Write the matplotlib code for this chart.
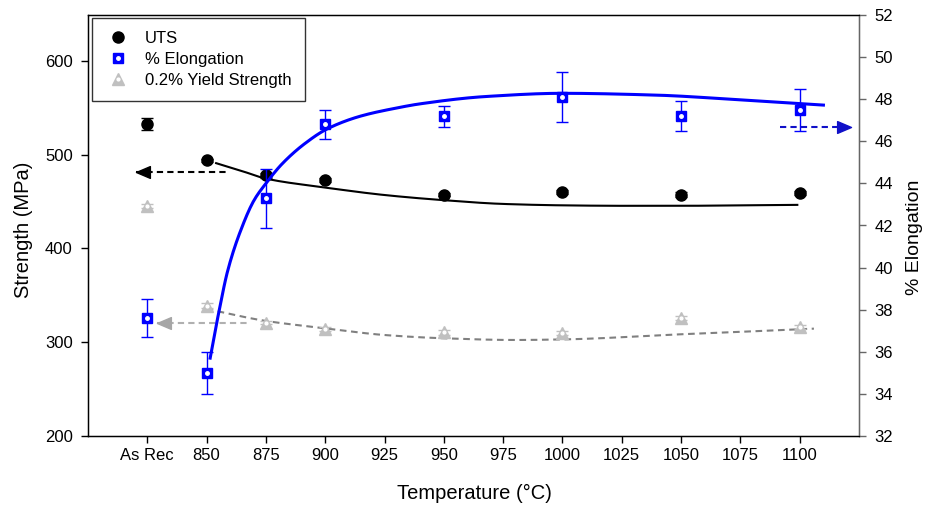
import numpy as np
import matplotlib
matplotlib.use("Agg")
import matplotlib.pyplot as plt
from matplotlib.lines import Line2D
from matplotlib.path import Path
from matplotlib.legend_handler import HandlerTuple

plt.rcParams['font.family'] = ['Liberation Sans', 'DejaVu Sans']

# ---- data -------------------------------------------------------------
tick_temps = [825, 850, 875, 900, 925, 950, 975, 1000, 1025, 1050, 1075, 1100]
tick_labels = ["As Rec", "850", "875", "900", "925", "950", "975", "1000",
               "1025", "1050", "1075", "1100"]

# "As Rec" is plotted in the 825 slot
sample_temps = [825, 850, 875, 900, 950, 1000, 1050, 1100]

uts = [533, 494, 478, 473, 457.5, 460, 457.5, 459]
uts_err = [6.5, 1.5, 3, 2.5, 2, 2, 2.5, 2]

yield_strength = [445, 339, 321, 314.5, 310.5, 310, 326, 316.5]
yield_err = [2, 2.5, 2, 2, 3, 2.5, 2, 2]

elongation = [37.6, 35.0, 43.3, 46.8, 47.2, 48.1, 47.2, 47.5]
elongation_err = [0.9, 1.0, 1.4, 0.7, 0.5, 1.2, 0.7, 1.0]

# regression curves
uts_fit_temps = [854, 865, 875, 900, 925, 950, 975, 1000, 1025, 1050, 1075, 1099]
uts_fit = [491, 482.5, 474.5, 465, 457, 451.5, 447.5, 446, 445.5, 445.5, 446, 446.5]

elong_fit_temps = [851.5, 855, 859, 865, 870, 875, 882, 891.5, 901, 915, 930,
                   940, 968, 1000, 1038, 1080, 1110]
elong_fit = [35.7, 37.8, 39.9, 41.95, 43.2, 44.0, 44.95, 45.9, 46.6, 47.2, 47.58,
             47.78, 48.13, 48.28, 48.2, 47.93, 47.72]

yield_fit_temps = [850, 875, 900, 925, 950, 980, 1000, 1050, 1100, 1106]
yield_fit = [335.5, 322.7, 314.9, 307.7, 304.2, 302.4, 303, 308.5, 313.8, 314.5]


def smooth(xs, ys, n=400):
    """Monotone piecewise-cubic (PCHIP) through the given points."""
    x = np.asarray(xs, float)
    y = np.asarray(ys, float)
    h = np.diff(x)
    d = np.diff(y) / h
    m = np.zeros_like(y)
    m[0], m[-1] = d[0], d[-1]
    for k in range(1, len(x) - 1):
        if d[k - 1] * d[k] > 0:
            w1 = 2 * h[k] + h[k - 1]
            w2 = h[k] + 2 * h[k - 1]
            m[k] = (w1 + w2) / (w1 / d[k - 1] + w2 / d[k])
    xn = np.linspace(x[0], x[-1], n)
    idx = np.clip(np.searchsorted(x, xn) - 1, 0, len(x) - 2)
    t = (xn - x[idx]) / h[idx]
    h00 = 2 * t**3 - 3 * t**2 + 1
    h10 = t**3 - 2 * t**2 + t
    h01 = -2 * t**3 + 3 * t**2
    h11 = t**3 - t**2
    yn = (h00 * y[idx] + h10 * h[idx] * m[idx] + h01 * y[idx + 1]
          + h11 * h[idx] * m[idx + 1])
    return xn, yn


# arrow heads whose tip sits on the anchor point
head_left = Path([(0, 0), (2, -0.85), (2, 0.85), (0, 0)],
                 [Path.MOVETO, Path.LINETO, Path.LINETO, Path.CLOSEPOLY])
head_right = Path([(0, 0), (-2, -0.85), (-2, 0.85), (0, 0)],
                  [Path.MOVETO, Path.LINETO, Path.LINETO, Path.CLOSEPOLY])

BLUE = "#0000ff"
GRAY_MK = "#c0c0c0"
HEAD_MS = 20

fig = plt.figure(figsize=(9.27, 5.05), dpi=100)
ax = fig.add_axes([88 / 927, 1 - 436 / 505, (859 - 88) / 927, (436 - 15) / 505])
ax2 = ax.twinx()

# ---- strength axis ----------------------------------------------------
fx, fy = smooth(uts_fit_temps, uts_fit)
ax.plot(fx, fy, color="black", lw=1.5, zorder=2)
fx, fy = smooth(yield_fit_temps, yield_fit)
ax.plot(fx, fy, color="#808080", lw=1.5, ls=(0, (3.2, 2.2)), zorder=2)

ax.errorbar(sample_temps, uts, yerr=uts_err, fmt="none", ecolor="black",
            elinewidth=1, capsize=4.5, capthick=1, zorder=3)
ax.plot(sample_temps, uts, "o", color="black", ms=8, zorder=4)

ax.errorbar(sample_temps, yield_strength, yerr=yield_err, fmt="none",
            ecolor=GRAY_MK, elinewidth=1, capsize=4.5, capthick=1, zorder=3)
ax.plot(sample_temps, yield_strength, "^", color=GRAY_MK, ms=8, zorder=4)
ax.plot(sample_temps, yield_strength, "o", color="white", ms=2, zorder=5)

# pointer arrows to the strength axis
ax.plot([820.4, 858.7], [481.3, 481.3], color="black", lw=1.5,
        ls=(0, (3, 2)), zorder=3)
ax.plot([820.4], [481.3], marker=head_left, color="black", ms=HEAD_MS, zorder=6)
ax.plot([829.2, 867.5], [320.2, 320.2], color="#b0b0b0", lw=1.5,
        ls=(0, (3, 2)), zorder=3)
ax.plot([829.2], [320.2], marker=head_left, color="#a6a6a6", ms=HEAD_MS, zorder=6)

ax.set_xlim(800, 1125)
ax.set_ylim(200, 649)
ax.set_yticks([200, 300, 400, 500, 600])
ax.set_xticks(tick_temps)
ax.set_xticklabels(tick_labels)
ax.set_xlabel("Temperature (°C)", fontsize=14.5)
ax.set_ylabel("Strength (MPa)", fontsize=14.5)
ax.xaxis.set_label_coords((474 - 88) / 771, (436 - 484) / 421)
ax.yaxis.set_label_coords((33 - 88) / 771, (436 - 230) / 421)
ax.tick_params(axis="both", direction="out", length=5, width=1, labelsize=12,
               colors="black")
ax.tick_params(axis="y", pad=6)
for s in ("left", "bottom", "top"):
    ax.spines[s].set_linewidth(1)
    ax.spines[s].set_color("black")

# ---- elongation axis --------------------------------------------------
fx, fy = smooth(elong_fit_temps, elong_fit)
ax2.plot(fx, fy, color=BLUE, lw=2.2, zorder=2)
ax2.errorbar(sample_temps, elongation, yerr=elongation_err, fmt="none",
             ecolor=BLUE, elinewidth=1, capsize=4.5, capthick=1, zorder=3)
ax2.plot(sample_temps, elongation, "s", color=BLUE, ms=7, zorder=4)
ax2.plot(sample_temps, elongation, "o", color="white", ms=2.5, zorder=5)

ax2.plot([1091.8, 1121.7], [46.69, 46.69], color="#1010c8", lw=1.5,
         ls=(0, (3, 2)), zorder=3)
ax2.plot([1121.7], [46.69], marker=head_right, color="#1010c8", ms=HEAD_MS,
         zorder=6)

ax2.set_ylim(32, 52)
ax2.set_yticks(np.arange(32, 53, 2))
ax2.set_ylabel("% Elongation", fontsize=14)
ax2.yaxis.set_label_coords((906 - 88) / 771, (436 - 237) / 421)
ax2.tick_params(axis="y", direction="out", length=5, width=1, labelsize=12,
                color="#666666", labelcolor="black", pad=6)
ax2.spines["right"].set_color("#666666")
ax2.spines["right"].set_linewidth(1)

# ---- legend -----------------------------------------------------------
h_uts = Line2D([], [], ls="none", marker="o", color="black", ms=8)
h_el = (Line2D([], [], ls="none", marker="s", color=BLUE, ms=7),
        Line2D([], [], ls="none", marker="o", color="white", ms=2.5))
h_ys = (Line2D([], [], ls="none", marker="^", color=GRAY_MK, ms=8),
        Line2D([], [], ls="none", marker="o", color="white", ms=2))
leg = ax2.legend([h_uts, h_el, h_ys],
                 ["UTS", "% Elongation", "0.2% Yield Strength"],
                 handler_map={tuple: HandlerTuple(ndivide=1)},
                 loc="upper left", bbox_to_anchor=(91.7 / 927, 1 - 18.3 / 505),
                 bbox_transform=fig.transFigure, borderaxespad=0,
                 fontsize=12, frameon=True, fancybox=False, borderpad=0.78,
                 handlelength=1.6, handletextpad=0.82, labelspacing=0.36)
leg.get_frame().set_edgecolor("black")
leg.get_frame().set_linewidth(1)
leg.set_zorder(10)

fig.savefig("out.png", dpi=100)
